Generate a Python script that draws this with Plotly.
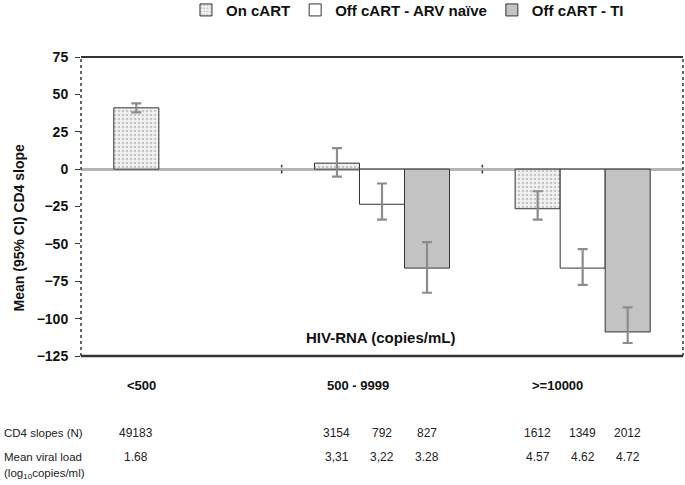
import plotly.graph_objects as go

categories = ["<500", "500 - 9999", ">=10000"]
series_names = ["On cART", "Off cART - ARV naïve", "Off cART - TI"]

on_cart = [41, 4, -26.5]
on_cart_hi = [3, 10, 11.7]
on_cart_lo = [3, 9, 7.3]

naive = [None, -23.5, -66.2]
naive_hi = [0, 13.9, 12.7]
naive_lo = [0, 10.3, 11.2]

ti = [None, -66.2, -108.9]
ti_hi = [0, 17.4, 16.4]
ti_lo = [0, 16.5, 7.4]

cd4_n = [["49183"], ["3154", "792", "827"], ["1612", "1349", "2012"]]
mean_vl = [["1.68"], ["3,31", "3,22", "3.28"], ["4.57", "4.62", "4.72"]]
row_labels = ["CD4 slopes (N)", "Mean viral load", "(log<sub>10</sub>copies/ml)"]
y_title = "Mean (95% CI) CD4 slope"
x_note = "HIV-RNA (copies/mL)"

FONT = "Liberation Sans"
BARGAP = 0.327
DARK = "#222222"
fig = go.Figure()

err_style = dict(type="data", symmetric=False, color="#8c8c8c", thickness=2.2, width=5)

fig.add_trace(go.Bar(
    name=series_names[0], x=categories, y=on_cart,
    marker=dict(color="white", pattern=dict(shape=".", fgcolor="#9a9a9a", bgcolor="#f2f2f2", size=4, solidity=0.35),
                line=dict(color="#333333", width=1)),
    error_y=dict(array=on_cart_hi, arrayminus=on_cart_lo, **err_style)))
fig.add_trace(go.Bar(
    name=series_names[1], x=categories, y=naive,
    marker=dict(color="white", line=dict(color="#333333", width=1)),
    error_y=dict(array=naive_hi, arrayminus=naive_lo, **err_style)))
fig.add_trace(go.Bar(
    name=series_names[2], x=categories, y=ti,
    marker=dict(color="#c3c3c3", line=dict(color="#333333", width=1)),
    error_y=dict(array=ti_hi, arrayminus=ti_lo, **err_style)))

# frame
shapes = [
    dict(type="line", xref="paper", yref="paper", x0=0, x1=1, y0=1, y1=1, line=dict(color="#333", width=2)),
    dict(type="line", xref="paper", yref="paper", x0=0, x1=1, y0=0, y1=0, line=dict(color="#333", width=2.5)),
    dict(type="line", xref="paper", yref="paper", x0=0, x1=0, y0=0, y1=1, line=dict(color="#333", width=1.5, dash="dot")),
    dict(type="line", xref="paper", yref="paper", x0=1, x1=1, y0=0, y1=1, line=dict(color="#333", width=1.5, dash="dot")),
]
for b in [0.5, 1.5]:
    shapes.append(dict(type="line", xref="x", yref="y", x0=b, x1=b, y0=-3, y1=3,
                       line=dict(color="#333", width=1.5, dash="dot")))

annotations = []
bw = (1 - BARGAP) / 3
def row(values, ypaper):
    for ci, vals in enumerate(values):
        for k, v in enumerate(vals):
            annotations.append(dict(x=ci + (k - 1) * bw, xref="x", y=ypaper, yref="paper",
                                    text=v, showarrow=False, xanchor="center", yanchor="middle",
                                    font=dict(family=FONT, size=12, color=DARK)))
row(cd4_n, -0.2575)
row(mean_vl, -0.338)
for txt, yp in zip(row_labels, [-0.2575, -0.338, -0.395]):
    annotations.append(dict(x=-0.131, xref="paper", y=yp, yref="paper", text=txt, showarrow=False,
                            xanchor="left", yanchor="middle", font=dict(family=FONT, size=11.5, color=DARK)))
# category labels (placed slightly left of the group centres, as in the source figure)
for ci, (cat, shift) in enumerate(zip(categories, [-0.2, -0.12, -0.125])):
    annotations.append(dict(x=ci + shift, xref="x", y=-0.1, yref="paper", text=cat, showarrow=False,
                            xanchor="center", yanchor="middle",
                            font=dict(family=FONT, size=13, weight="bold", color="#111")))
annotations.append(dict(x=0.497, xref="paper", y=0.0635, yref="paper", text=x_note,
                        showarrow=False, xanchor="center", yanchor="middle",
                        font=dict(family=FONT, size=15, weight="bold", color="#111")))
annotations.append(dict(x=-0.103, xref="paper", y=0.43, yref="paper", text=y_title, textangle=-90,
                        showarrow=False, xanchor="center", yanchor="middle",
                        font=dict(family=FONT, size=14, weight="bold", color="#111")))

fig.update_layout(
    width=685, height=485,
    margin=dict(l=81, r=2, t=57, b=129),
    paper_bgcolor="white", plot_bgcolor="white",
    barmode="group", bargap=BARGAP, bargroupgap=0,
    font=dict(family=FONT, color="#111"),
    showlegend=True,
    legend=dict(orientation="h", xref="container", yref="container", x=0.2715, xanchor="left",
                y=0.979, yanchor="middle",
                font=dict(family=FONT, size=15, weight="bold", color="#111"),
                itemwidth=30, traceorder="normal", bgcolor="rgba(0,0,0,0)"),
    xaxis=dict(showgrid=False, zeroline=False, showline=False, ticks="", automargin=False,
               showticklabels=False),
    yaxis=dict(range=[-125, 75], dtick=25, showgrid=False, showline=False, automargin=False,
               zeroline=True, zerolinecolor="#b5b5b5", zerolinewidth=2.5,
               ticks="outside", ticklen=5, tickcolor="#333", ticklabelstandoff=4,
               tickfont=dict(family=FONT, size=14, weight="bold", color="#111")),
    shapes=shapes, annotations=annotations,
)

fig.write_html("out.html", config={"displayModeBar": False},
               post_script="document.body.style.margin='0';document.body.style.overflow='hidden';")
